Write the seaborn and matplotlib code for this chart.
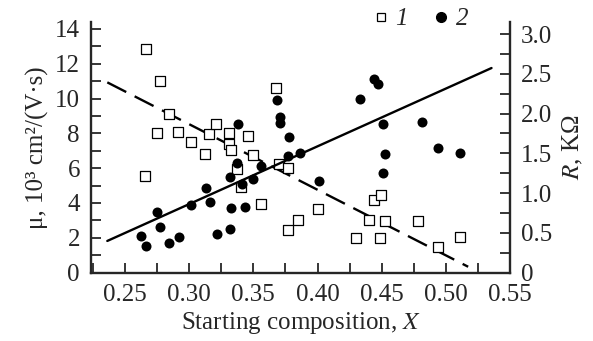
import numpy as np
import pandas as pd
import matplotlib
matplotlib.use('Agg')
import matplotlib.pyplot as plt
import seaborn as sns
from matplotlib.ticker import MultipleLocator, FixedLocator
from matplotlib.lines import Line2D

# series 1 (squares): mobility, left axis
x1 = [0.2661, 0.2770, 0.2843, 0.2752, 0.2915, 0.3016, 0.3152, 0.3211, 0.3308, 0.3462,
      0.3308, 0.3328, 0.3125, 0.3499, 0.2658, 0.3370, 0.3406, 0.3558, 0.3678, 0.3699,
      0.3767, 0.4001, 0.3850, 0.3767, 0.4439, 0.4496, 0.4403, 0.4523, 0.4782, 0.4301,
      0.4486, 0.4940, 0.5109]
mu1 = [12.87, 11.02, 9.11, 8.01, 8.09, 7.53, 7.99, 8.53, 8.03, 7.83,
       7.38, 7.05, 6.82, 6.76, 5.56, 5.94, 4.94, 3.93, 10.62, 6.23,
       5.98, 3.66, 3.04, 2.45, 4.17, 4.48, 3.04, 2.96, 2.96, 1.97,
       2.00, 1.45, 2.06]

# series 2 (circles): resistance, right axis
x2 = [0.3380, 0.3370, 0.3315, 0.3414, 0.3499, 0.3563, 0.3131, 0.3160, 0.3012, 0.2749,
      0.2775, 0.2622, 0.2664, 0.2840, 0.2921, 0.3214, 0.3315, 0.3328, 0.3437, 0.3681,
      0.3710, 0.3710, 0.3777, 0.3769, 0.3863, 0.4333, 0.4440, 0.4474, 0.4510, 0.4816,
      0.4523, 0.4507, 0.4009, 0.4940, 0.5109]
r2 = [1.870, 1.375, 1.203, 1.118, 1.178, 1.341, 1.060, 0.892, 0.850, 0.766,
      0.573, 0.456, 0.330, 0.368, 0.451, 0.481, 0.548, 0.812, 0.829, 2.164,
      1.962, 1.879, 1.703, 1.470, 1.509, 2.185, 2.433, 2.370, 1.870, 1.892,
      1.490, 1.253, 1.156, 1.568, 1.505]

# fitted lines (end points)
fit1_x = [0.2362, 0.5174]
fit1_y = [10.93, 0.33]
fit2_x = [0.2362, 0.5356]
fit2_y = [0.397, 2.572]

sns.set_style('ticks')
plt.rcParams['font.family'] = ['Liberation Serif', 'DejaVu Serif']
plt.rcParams['mathtext.fontset'] = 'stix'
FS = 18

fig = plt.figure(figsize=(5.93, 3.41), dpi=100)
ax = fig.add_axes([91 / 593, 1 - 272.5 / 341, (510 - 91) / 593, (272.5 - 22) / 341])
ax2 = ax.twinx()

d1 = pd.DataFrame({'x': x1, 'y': mu1})
d2 = pd.DataFrame({'x': x2, 'y': r2})

ax.plot(fit1_x, fit1_y, color='black', lw=1.7, dashes=(9, 4))
sns.scatterplot(data=d1, x='x', y='y', ax=ax, marker='s', s=42,
                facecolor='white', edgecolor='black', linewidth=0.9, zorder=3)
ax2.plot(fit2_x, fit2_y, color='black', lw=1.7)
sns.scatterplot(data=d2, x='x', y='y', ax=ax2, marker='o', s=52,
                color='black', edgecolor='black', linewidth=0, zorder=3)

ax.set_xlim(0.2235, 0.55)
ax.set_ylim(0, 14.4)
ax2.set_ylim(0, 14.4 * 3 / 13.71)

ax.xaxis.set_major_locator(MultipleLocator(0.05))
ax.xaxis.set_minor_locator(MultipleLocator(0.025))
ax.yaxis.set_major_locator(MultipleLocator(2))
ax.yaxis.set_minor_locator(MultipleLocator(1))
ax2.yaxis.set_major_locator(FixedLocator([0, 0.5, 1.0, 1.5, 2.0, 2.5, 3.0]))
ax2.yaxis.set_minor_locator(FixedLocator([0.25, 0.75, 1.25, 1.75, 2.25, 2.75]))
ax.set_xticks([0.25, 0.30, 0.35, 0.40, 0.45, 0.50, 0.55])
ax.set_xticklabels(['0.25', '0.30', '0.35', '0.40', '0.45', '0.50', '0.55'])
ax2.set_yticklabels(['0', '0.5', '1.0', '1.5', '2.0', '2.5', '3.0'])

for a in (ax, ax2):
    a.tick_params(which='both', direction='in', length=7, width=1.3, labelsize=FS, pad=8)
    for s in a.spines.values():
        s.set_linewidth(1.7)
    a.spines['top'].set_visible(False)
ax.spines['right'].set_visible(False)
ax2.spines['left'].set_visible(False)
ax2.spines['bottom'].set_visible(False)

ax.set_xlabel('Starting composition, $X$', fontsize=FS, labelpad=3)
ax.set_ylabel('μ, 10³ cm²/(V·s)', fontsize=FS, labelpad=4)
ax2.set_ylabel('$R$, KΩ', fontsize=FS, labelpad=6)

handles = [Line2D([], [], marker='s', ls='', mfc='white', mec='black', ms=6, mew=0.9),
           Line2D([], [], marker='o', ls='', color='black', ms=7)]
leg = ax.legend(handles, ['1', '2'], ncol=2, frameon=False, loc='center right',
                bbox_to_anchor=(468 / 593, 1 - 19 / 341), bbox_transform=fig.transFigure,
                prop={'style': 'italic', 'size': FS}, handletextpad=0.1,
                columnspacing=0.8, handlelength=1.0, borderpad=0, borderaxespad=0)

fig.savefig('out.png', dpi=100)
